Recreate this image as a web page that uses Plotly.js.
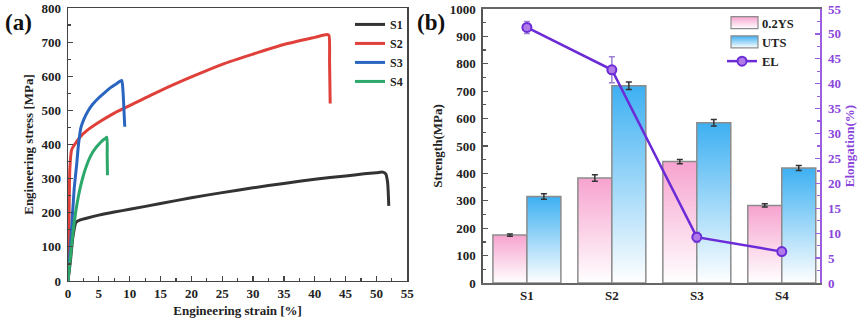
<!DOCTYPE html>
<html>
<head>
<meta charset="utf-8">
<script src="https://cdn.plot.ly/plotly-3.0.1.min.js"></script>
<style>
html,body{margin:0;padding:0;background:#fff;}
#chart{width:865px;height:325px;}
</style>
</head>
<body>
<div id="chart"></div>
<script>
// ---------- Panel (a): stress-strain curves ----------
const s1Strain = [0, 0.4, 0.8, 1.3, 2, 3, 5, 7.5, 10, 15, 20, 25, 30, 35, 40, 45, 48, 50, 51, 51.5, 51.8, 52];
const s1Stress = [0, 60, 130, 172, 179, 184, 193, 202, 210, 227, 244, 259, 273, 286, 298, 308, 314, 317, 319, 314, 290, 220];
const s2Strain = [0, 0.15, 0.3, 0.6, 1, 2, 3, 5, 7.5, 10, 15, 20, 25, 30, 35, 40, 42, 42.3, 42.4, 42.5];
const s2Stress = [0, 150, 330, 385, 398, 423, 440, 465, 492, 514, 558, 598, 635, 665, 693, 714, 722, 720, 640, 520];
const s3Strain = [0, 0.5, 1.0, 1.4, 1.7, 2.1, 2.6, 3.2, 4, 5, 6, 7, 8, 8.7, 8.9, 9.1, 9.2];
const s3Stress = [0, 130, 270, 340, 400, 450, 475, 497, 518, 537, 553, 568, 580, 588, 560, 490, 452];
const s4Strain = [0, 0.5, 1, 1.5, 2, 2.5, 3, 3.5, 4, 4.5, 5, 5.5, 6, 6.3, 6.35, 6.4];
const s4Stress = [0, 90, 170, 230, 275, 310, 338, 360, 377, 390, 401, 410, 417, 421, 370, 310];
const curveNames = ['S1', 'S2', 'S3', 'S4'];

// ---------- Panel (b): strength & elongation ----------
const samples = ['S1', 'S2', 'S3', 'S4'];
const ys02 = [175, 383, 443, 283];
const ys02Err = [4, 12, 8, 6];
const uts = [316, 720, 585, 420];
const utsErr = [10, 14, 12, 9];
const elong = [51.3, 42.8, 9.2, 6.3];
const elongErr = [1.2, 2.6, 1.0, 0.5];

const serif = 'Liberation Serif, Times New Roman, serif';
const purple = '#6b2bd6';
const purpleText = '#8a45dc';
const curveColors = ['#333333', '#e0403a', '#2a66c0', '#2ca86a'];
const strains = [s1Strain, s2Strain, s3Strain, s4Strain];
const stresses = [s1Stress, s2Stress, s3Stress, s4Stress];

const traces = [];
for (let i = 0; i < 4; i++) {
  traces.push({
    type: 'scatter', mode: 'lines', name: curveNames[i],
    x: strains[i], y: stresses[i], xaxis: 'x', yaxis: 'y',
    line: {color: curveColors[i], width: 3, shape: 'spline', smoothing: 0.6},
    legend: 'legend'
  });
}
traces.push({
  type: 'bar', name: '0.2YS', x: samples, y: ys02, xaxis: 'x2', yaxis: 'y2',
  marker: {color: '#f7a3cf', line: {color: '#8c8c8c', width: 1.5}},
  error_y: {type: 'data', array: ys02Err, visible: true, color: '#333', thickness: 1.5, width: 3},
  legend: 'legend2'
});
traces.push({
  type: 'bar', name: 'UTS', x: samples, y: uts, xaxis: 'x2', yaxis: 'y2',
  marker: {color: '#3db0f2', line: {color: '#8c8c8c', width: 1.5}},
  error_y: {type: 'data', array: utsErr, visible: true, color: '#333', thickness: 1.5, width: 3},
  legend: 'legend2'
});
traces.push({
  type: 'scatter', mode: 'lines+markers', name: 'EL', x: samples, y: elong, xaxis: 'x2', yaxis: 'y3',
  line: {color: purple, width: 2.5},
  marker: {symbol: 'circle', size: 9, color: '#b07ae8', line: {color: purple, width: 2}},
  error_y: {type: 'data', array: elongErr, visible: true, color: '#9b7fd0', thickness: 1.5, width: 3},
  legend: 'legend2'
});

const tickFont = {family: serif, size: 13, color: '#222', weight: 'bold'};
const titleFont = {family: serif, size: 13, color: '#222', weight: 'bold'};
const axisLine = '#444';

const layout = {
  width: 865, height: 325,
  margin: {l: 68, r: 45, t: 8, b: 42},
  paper_bgcolor: '#fff', plot_bgcolor: '#fff',
  font: {family: serif, size: 13, color: '#222'},
  bargap: 0.2, bargroupgap: 0, barmode: 'group',
  xaxis: {
    domain: [0, 0.4512], range: [0, 55], dtick: 5, tick0: 0,
    showline: true, linecolor: axisLine, linewidth: 1.5, mirror: true,
    ticks: 'inside', ticklen: 5, tickwidth: 1.2, tickcolor: axisLine,
    minor: {ticks: 'inside', ticklen: 3, dtick: 2.5, tickcolor: axisLine},
    showgrid: false, zeroline: false, tickfont: tickFont,
    title: {text: 'Engineering strain [%]', font: titleFont, standoff: 6}
  },
  yaxis: {
    domain: [0.0073, 1.0], range: [0, 800], dtick: 100,
    showline: true, linecolor: axisLine, linewidth: 1.5, mirror: true,
    ticks: 'inside', ticklen: 5, tickwidth: 1.2, tickcolor: axisLine,
    minor: {ticks: 'inside', ticklen: 3, dtick: 50, tickcolor: axisLine},
    showgrid: false, zeroline: false, tickfont: tickFont, ticklabelstandoff: 3,
    title: {text: 'Engineering stress [MPa]', font: titleFont, standoff: 5}
  },
  xaxis2: {
    domain: [0.5515, 1.0], anchor: 'y2', range: [-0.52, 3.45],
    showline: true, linecolor: '#666', linewidth: 1.5, mirror: true,
    ticks: '', showgrid: false, zeroline: false, tickfont: tickFont
  },
  yaxis2: {
    domain: [0, 0.9964], anchor: 'x2', range: [0, 1000], dtick: 100,
    showline: true, linecolor: '#555', linewidth: 1.5,
    ticks: 'inside', ticklen: 5, tickwidth: 1.2, tickcolor: '#555',
    minor: {ticks: 'inside', ticklen: 3, dtick: 50, tickcolor: '#555'},
    showgrid: false, zeroline: false, tickfont: tickFont, ticklabelstandoff: 3,
    title: {text: 'Strength(MPa)', font: titleFont, standoff: 4}
  },
  yaxis3: {
    overlaying: 'y2', anchor: 'x2', side: 'right', range: [0, 55], dtick: 5,
    showline: true, linecolor: '#9a5ee0', linewidth: 1.5,
    ticks: 'inside', ticklen: 5, tickwidth: 1.2, tickcolor: '#9a5ee0',
    minor: {ticks: 'inside', ticklen: 3, dtick: 2.5, tickcolor: '#9a5ee0'},
    showgrid: false, zeroline: false,
    tickfont: {family: serif, size: 13, color: purpleText, weight: 'bold'}, ticklabelstandoff: 4,
    title: {text: 'Elongation(%)', font: {family: serif, size: 13, color: purpleText, weight: 'bold'}, standoff: 4}
  },
  legend: {
    x: 0.375, y: 0.993, xanchor: 'left', yanchor: 'top',
    bgcolor: 'rgba(0,0,0,0)', borderwidth: 0, tracegroupgap: 0,
    font: {family: serif, size: 12, color: '#222', weight: 'bold'}
  },
  legend2: {
    x: 0.8697, y: 1.0, xanchor: 'left', yanchor: 'top',
    bgcolor: 'rgba(0,0,0,0)', borderwidth: 0, tracegroupgap: 0,
    font: {family: serif, size: 12.5, color: '#222', weight: 'bold'}
  },
  annotations: [
    {text: '(a)', xref: 'paper', yref: 'paper', x: -0.0658, y: 0.949, showarrow: false,
     xanchor: 'center', yanchor: 'middle', font: {family: serif, size: 23, color: '#111', weight: 'bold'}},
    {text: '(b)', xref: 'paper', yref: 'paper', x: 0.4827, y: 0.949, showarrow: false,
     xanchor: 'center', yanchor: 'middle', font: {family: serif, size: 23, color: '#111', weight: 'bold'}}
  ],
  showlegend: true
};

const gradDefs = {
  '0.2YS': {id: 'gradYS', top: '#f7a3cf', bottom: '#ffffff'},
  'UTS': {id: 'gradUTS', top: '#3db0f2', bottom: '#ffffff'}
};

function ensureDefs(gd) {
  const svg = gd.querySelector('svg.main-svg');
  if (!svg) return;
  let defs = svg.querySelector('defs');
  const NS = 'http://www.w3.org/2000/svg';
  if (!defs) { defs = document.createElementNS(NS, 'defs'); svg.insertBefore(defs, svg.firstChild); }
  Object.values(gradDefs).forEach(g => {
    if (svg.querySelector('#' + g.id)) return;
    const lg = document.createElementNS(NS, 'linearGradient');
    lg.setAttribute('id', g.id);
    lg.setAttribute('x1', '0'); lg.setAttribute('y1', '0');
    lg.setAttribute('x2', '0'); lg.setAttribute('y2', '1');
    const s1 = document.createElementNS(NS, 'stop');
    s1.setAttribute('offset', '0'); s1.setAttribute('stop-color', g.top);
    const s2 = document.createElementNS(NS, 'stop');
    s2.setAttribute('offset', '1'); s2.setAttribute('stop-color', g.bottom);
    lg.appendChild(s1); lg.appendChild(s2); defs.appendChild(lg);
  });
}

function traceOf(node) {
  const d = node.__data__;
  if (!d) return null;
  if (Array.isArray(d)) {
    if (d[0] && d[0].trace) return d[0].trace;
    if (d[0] && d[0][0] && d[0][0].trace) return d[0][0].trace;
  }
  return d.trace || null;
}

function applyGradients(gd) {
  ensureDefs(gd);
  gd.querySelectorAll('.barlayer .trace').forEach(g => {
    const tr = traceOf(g);
    if (!tr || !gradDefs[tr.name]) return;
    g.querySelectorAll('.point path').forEach(p => { p.style.fill = 'url(#' + gradDefs[tr.name].id + ')'; });
  });
  gd.querySelectorAll('.legend2 .traces, .legend .traces, .infolayer .traces').forEach(g => {
    const tr = traceOf(g);
    if (!tr || !gradDefs[tr.name]) return;
    g.querySelectorAll('.legendpoints path').forEach(p => {
      p.setAttribute('d', 'M16,6H-11V-6H16Z');
      p.style.fill = 'url(#' + gradDefs[tr.name].id + ')';
      p.style.stroke = '#8c8c8c';
      p.style.strokeWidth = '1.2px';
    });
  });
}

const gd = document.getElementById('chart');
Plotly.newPlot(gd, traces, layout, {displayModeBar: false, staticPlot: true}).then(() => {
  applyGradients(gd);
  gd.on('plotly_afterplot', () => applyGradients(gd));
});
</script>
</body>
</html>
